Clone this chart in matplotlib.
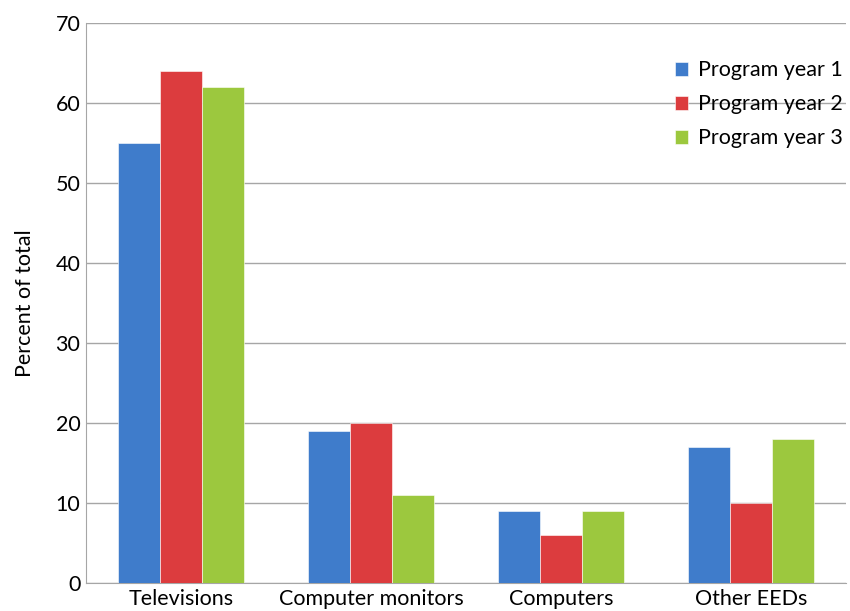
import numpy as np
import matplotlib.pyplot as plt

plt.rcParams['font.family'] = ['Lato', 'DejaVu Sans']

categories = ['Televisions', 'Computer monitors', 'Computers', 'Other EEDs']
year1 = [55, 19, 9, 17]
year2 = [64, 20, 6, 10]
year3 = [62, 11, 9, 18]
series_names = ['Program year 1', 'Program year 2', 'Program year 3']
colors = ['#3f7ccb', '#dc3c3e', '#9cc83e']

fig = plt.figure(figsize=(8.5, 6.11), dpi=100)
ax = fig.add_axes([0.1012, 0.0458, 0.894, 0.9166])

x = np.arange(len(categories))
w = 0.221
for i, (vals, name) in enumerate(zip([year1, year2, year3], series_names)):
    ax.bar(x + (i - 1) * w, vals, w, color=colors[i], label=name,
           edgecolor='#ffffff', linewidth=0.4, zorder=3)

ax.set_xlim(-0.5, len(categories) - 0.5)
ax.set_ylim(0, 70)
ax.set_yticks(range(0, 71, 10))
ax.set_xticks(x)
ax.set_xticklabels(categories, fontsize=15.5)
ax.tick_params(axis='y', labelsize=15.5, length=0, pad=4)
ax.tick_params(axis='x', length=0, pad=4)
ax.yaxis.grid(True, color='#a6a6a6', linewidth=1, zorder=0)
ax.set_axisbelow(True)
for s in ['top', 'right']:
    ax.spines[s].set_visible(False)
for s in ['left', 'bottom']:
    ax.spines[s].set_color('#a6a6a6')
ax.set_ylabel('Percent of total', fontsize=15.5, labelpad=15)

ax.legend(loc='upper right', bbox_to_anchor=(1.022, 0.968), frameon=False,
          fontsize=15.5, handlelength=0.6, handleheight=0.6, handletextpad=0.5,
          labelspacing=0.65)

fig.savefig('out.png', dpi=100)
